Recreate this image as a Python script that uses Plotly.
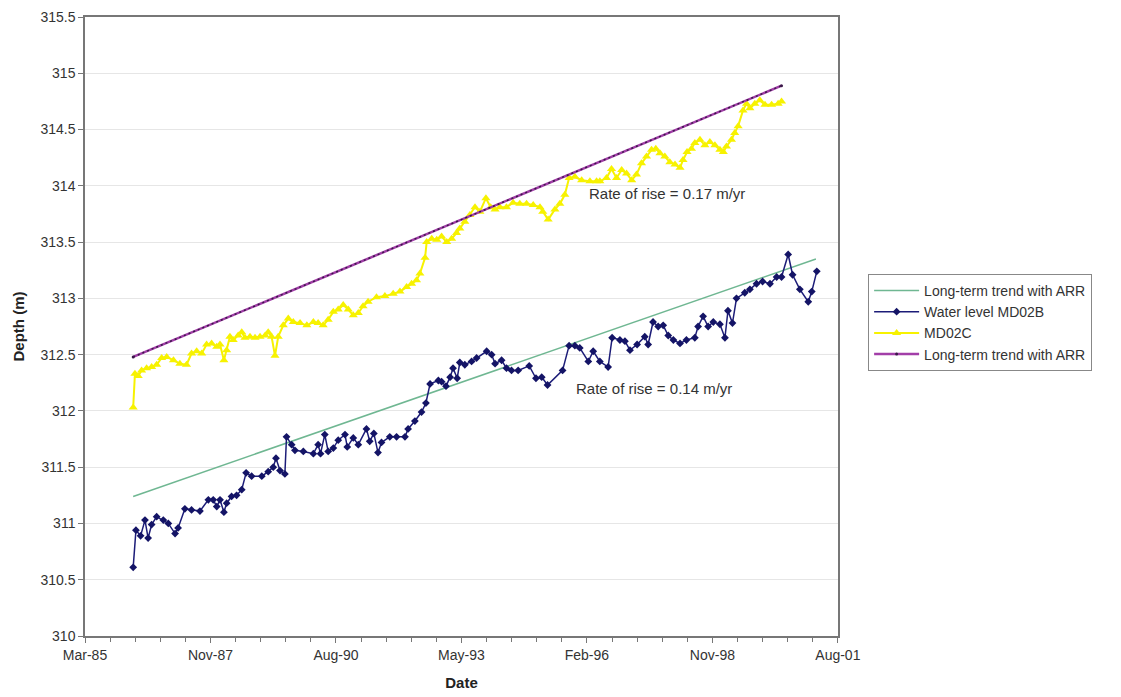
import plotly.graph_objects as go
import pandas as pd

# ---------------- data ----------------
md02b_dates = [
    "1986-03-20", "1986-04-11", "1986-05-18", "1986-06-22", "1986-07-17", "1986-08-14", "1986-09-23",
    "1986-11-15", "1986-12-25", "1987-02-17", "1987-03-13", "1987-05-06", "1987-06-28", "1987-09-03",
    "1987-11-09", "1987-12-18", "1988-01-15", "1988-02-10", "1988-03-12", "1988-04-03", "1988-05-12",
    "1988-06-21", "1988-08-01", "1988-09-05", "1988-10-19", "1989-01-08", "1989-02-28", "1989-04-09",
    "1989-05-01", "1989-06-02", "1989-07-11", "1989-07-24", "1989-09-03", "1989-09-29", "1989-12-05",
    "1990-02-23", "1990-04-02", "1990-04-21", "1990-05-25", "1990-06-21", "1990-08-01", "1990-09-09",
    "1990-11-02", "1990-11-20", "1991-01-07", "1991-02-16", "1991-04-22", "1991-05-18", "1991-06-20",
    "1991-07-23", "1991-08-20", "1991-10-25", "1991-12-18", "1992-02-23", "1992-03-19", "1992-05-12",
    "1992-07-04", "1992-08-08", "1992-09-10", "1992-11-15", "1992-12-11", "1993-01-15", "1993-02-17",
    "1993-03-12", "1993-04-14", "1993-05-05", "1993-06-14", "1993-08-07", "1993-09-16", "1993-12-05",
    "1994-01-14", "1994-02-10", "1994-04-03", "1994-05-12", "1994-06-21", "1994-08-13", "1994-11-09",
    "1995-01-02", "1995-02-17", "1995-04-04", "1995-08-02", "1995-09-23", "1995-11-08", "1995-12-17",
    "1996-02-23", "1996-04-02", "1996-05-25", "1996-07-30", "1996-08-31", "1996-11-01", "1996-12-11",
    "1997-01-20", "1997-03-18", "1997-05-18", "1997-06-14", "1997-07-23", "1997-09-02", "1997-10-12",
    "1997-11-21", "1998-01-01", "1998-02-23", "1998-04-15", "1998-06-21", "1998-07-17", "1998-08-26",
    "1998-10-05", "1998-11-15", "1999-01-07", "1999-02-16", "1999-03-12", "1999-04-17", "1999-05-19",
    "1999-07-24", "1999-09-03", "1999-10-26", "1999-12-13", "2000-02-10", "2000-04-03", "2000-05-12",
    "2000-07-04", "2000-08-08", "2000-10-05", "2000-12-11", "2001-01-08", "2001-02-17",
]
md02b_values = [
    310.61, 310.94, 310.89, 311.03, 310.87, 310.99, 311.06,
    311.03, 311.00, 310.91, 310.96, 311.13, 311.12, 311.11,
    311.21, 311.21, 311.15, 311.21, 311.10, 311.18, 311.24,
    311.25, 311.30, 311.45, 311.42, 311.42, 311.46, 311.50,
    311.58, 311.47, 311.44, 311.77, 311.70, 311.65, 311.64,
    311.62, 311.70, 311.62, 311.79, 311.64, 311.67, 311.74,
    311.79, 311.68, 311.76, 311.70, 311.84, 311.73, 311.80,
    311.63, 311.72, 311.77, 311.77, 311.77, 311.84, 311.91,
    311.99, 312.07, 312.24, 312.27, 312.26, 312.22, 312.30,
    312.38, 312.29, 312.43, 312.41, 312.44, 312.47, 312.53,
    312.50, 312.42, 312.45, 312.38, 312.36, 312.36, 312.40,
    312.29, 312.30, 312.23, 312.36, 312.58, 312.58, 312.56,
    312.44, 312.53, 312.44, 312.39, 312.65, 312.63, 312.62,
    312.54, 312.59, 312.66, 312.59, 312.79, 312.75, 312.76,
    312.67, 312.63, 312.60, 312.63, 312.65, 312.75, 312.84,
    312.75, 312.79, 312.77, 312.65, 312.89, 312.78, 313.00,
    313.05, 313.08, 313.13, 313.15, 313.13, 313.19, 313.19,
    313.39, 313.21, 313.08, 312.97, 313.06, 313.24,
]

md02c_dates = [
    "1986-03-20", "1986-04-03", "1986-04-29", "1986-05-26", "1986-07-05", "1986-08-14", "1986-09-23",
    "1986-11-02", "1986-12-12", "1987-02-04", "1987-03-27", "1987-05-19", "1987-06-28", "1987-08-08",
    "1987-09-17", "1987-10-26", "1987-12-05", "1988-01-15", "1988-02-10", "1988-03-12", "1988-04-03",
    "1988-04-29", "1988-05-25", "1988-07-04", "1988-08-01", "1988-08-27", "1988-10-06", "1988-11-15",
    "1988-12-25", "1989-02-04", "1989-02-28", "1989-03-27", "1989-04-23", "1989-05-19", "1989-06-28",
    "1989-08-07", "1989-09-16", "1989-11-09", "1990-01-02", "1990-02-23", "1990-04-02", "1990-05-12",
    "1990-06-21", "1990-08-01", "1990-09-09", "1990-10-19", "1990-11-28", "1991-01-07", "1991-02-16",
    "1991-03-26", "1991-05-05", "1991-07-11", "1991-09-16", "1991-11-21", "1992-01-14", "1992-03-07",
    "1992-04-16", "1992-05-25", "1992-06-21", "1992-08-01", "1992-08-14", "1992-09-23", "1992-11-02",
    "1992-12-11", "1993-01-21", "1993-03-01", "1993-04-09", "1993-05-05", "1993-06-14", "1993-07-24",
    "1993-09-03", "1993-10-12", "1993-11-29", "1994-01-06", "1994-02-10", "1994-03-20", "1994-05-12",
    "1994-07-04", "1994-08-26", "1994-10-19", "1994-12-11", "1995-02-03", "1995-02-25", "1995-04-09",
    "1995-06-02", "1995-07-11", "1995-08-20", "1995-09-23", "1995-11-08", "1996-01-01", "1996-03-07",
    "1996-04-29", "1996-05-25", "1996-07-17", "1996-08-26", "1996-10-05", "1996-11-15", "1996-12-24",
    "1997-02-03", "1997-03-13", "1997-04-22", "1997-06-01", "1997-07-11", "1997-08-14", "1997-09-16",
    "1997-10-25", "1997-12-04", "1998-01-14", "1998-02-23", "1998-03-19", "1998-04-20", "1998-05-25",
    "1998-06-21", "1998-08-01", "1998-09-09", "1998-10-19", "1998-11-28", "1999-01-07", "1999-02-03",
    "1999-02-28", "1999-04-09", "1999-05-05", "1999-06-01", "1999-07-10", "1999-08-07", "1999-09-03",
    "1999-10-12", "1999-11-21", "2000-01-01", "2000-02-23", "2000-04-15", "2000-05-12",
]
md02c_values = [
    312.03, 312.33, 312.31, 312.36, 312.38, 312.39, 312.41,
    312.47, 312.48, 312.45, 312.42, 312.41, 312.51, 312.53,
    312.51, 312.59, 312.60, 312.57, 312.59, 312.45, 312.54,
    312.66, 312.63, 312.67, 312.70, 312.65, 312.66, 312.65,
    312.66, 312.67, 312.70, 312.66, 312.49, 312.66, 312.76,
    312.82, 312.79, 312.78, 312.76, 312.79, 312.78, 312.76,
    312.81, 312.88, 312.90, 312.94, 312.90, 312.85, 312.87,
    312.93, 312.97, 313.01, 313.02, 313.04, 313.06, 313.10,
    313.13, 313.16, 313.22, 313.36, 313.50, 313.53, 313.52,
    313.55, 313.50, 313.53, 313.58, 313.62, 313.68, 313.74,
    313.81, 313.77, 313.89, 313.81, 313.79, 313.81, 313.81,
    313.85, 313.84, 313.84, 313.83, 313.81, 313.77, 313.70,
    313.79, 313.84, 313.92, 314.07, 314.08, 314.05, 314.04,
    314.04, 314.04, 314.07, 314.15, 314.07, 314.14, 314.11,
    314.05, 314.10, 314.20, 314.26, 314.32, 314.33, 314.29,
    314.26, 314.21, 314.19, 314.16, 314.23, 314.30, 314.33,
    314.38, 314.41, 314.36, 314.39, 314.36, 314.32, 314.30,
    314.35, 314.41, 314.47, 314.53, 314.67, 314.73, 314.69,
    314.73, 314.76, 314.72, 314.72, 314.73, 314.75,
]

trend_b_dates = ["1986-03-20", "2001-02-10"]
trend_b_values = [311.24, 313.35]

trend_c_dates = ["1986-03-20", "2000-05-12"]
trend_c_values = [312.48, 314.89]

y_ticks = [310, 310.5, 311, 311.5, 312, 312.5, 313, 313.5, 314, 314.5, 315, 315.5]
x_axis_start = "1985-03-01"
x_axis_end = "2001-08-05"

# ---------------- figure ----------------
FONT = "Liberation Sans, Arial, sans-serif"
major_ticks = pd.date_range(x_axis_start, periods=7, freq="1000D")
minor_ticks = pd.date_range(x_axis_start, periods=31, freq="200D")

fig = go.Figure()

fig.add_trace(go.Scatter(
    x=trend_b_dates, y=trend_b_values, mode="lines",
    name="Long-term trend with ARR",
    line=dict(color="#6fb792", width=1.5),
))
fig.add_trace(go.Scatter(
    x=md02b_dates, y=md02b_values, mode="lines+markers",
    name="Water level MD02B",
    line=dict(color="#1c1c78", width=1.5),
    marker=dict(symbol="diamond", size=6, color="#141466"),
))
fig.add_trace(go.Scatter(
    x=md02c_dates, y=md02c_values, mode="lines+markers",
    name="MD02C",
    line=dict(color="#f7f200", width=2),
    marker=dict(symbol="triangle-up", size=8, color="#f7f200"),
))
fig.add_trace(go.Scatter(
    x=trend_c_dates, y=trend_c_values, mode="lines+markers",
    name="Long-term trend with ARR",
    line=dict(color="#a23ea8", width=2.5),
    marker=dict(symbol="circle", size=3, color="#3a1848"),
))
fig.add_trace(go.Scatter(
    x=trend_c_dates, y=trend_c_values, mode="lines",
    showlegend=False, hoverinfo="skip",
    line=dict(color="#3a1848", width=1.5, dash="2px,3px"),
))

fig.add_annotation(x="1996-02-10", y=313.93, text="Rate of rise = 0.17 m/yr",
                   showarrow=False, xanchor="left", yanchor="middle",
                   font=dict(family=FONT, size=15, color="#333333"))
fig.add_annotation(x="1995-11-01", y=312.2, text="Rate of rise = 0.14 m/yr",
                   showarrow=False, xanchor="left", yanchor="middle",
                   font=dict(family=FONT, size=15, color="#333333"))

fig.update_layout(
    width=1113, height=689,
    margin=dict(l=77, r=283, t=9, b=61, autoexpand=False),
    paper_bgcolor="white", plot_bgcolor="white",
    font=dict(family=FONT, size=14, color="#333333"),
    showlegend=True,
    legend=dict(
        x=1.04, y=0.585, xanchor="left", yanchor="top",
        bgcolor="white", bordercolor="#888888", borderwidth=1,
        font=dict(family=FONT, size=14, color="#333333"),
        tracegroupgap=0, itemwidth=45,
    ),
    xaxis=dict(
        type="date", range=[x_axis_start, x_axis_end], automargin=False,
        tickmode="array", tickvals=list(major_ticks), tickformat="%b-%y",
        showgrid=False, zeroline=False,
        showline=True, linecolor="#777777", linewidth=1.5, mirror=True,
        ticks="outside", ticklen=5, tickcolor="#777777",
        minor=dict(tickmode="array", tickvals=list(minor_ticks), ticks="outside",
                   ticklen=4, tickcolor="#777777", showgrid=False),
        tickfont=dict(family=FONT, size=14, color="#333333"),
        title=dict(text="<b>Date</b>", font=dict(family=FONT, size=15, color="#222222"), standoff=16),
    ),
    yaxis=dict(
        range=[310, 315.5], tickmode="array", tickvals=y_ticks, automargin=False,
        showgrid=True, gridcolor="#e6e6e6", gridwidth=1, zeroline=False,
        showline=True, linecolor="#777777", linewidth=1.5, mirror=True,
        ticks="outside", ticklen=5, tickcolor="#777777",
        tickfont=dict(family=FONT, size=14, color="#333333"),
        title=dict(text="<b>Depth (m)</b>", font=dict(family=FONT, size=15, color="#222222"), standoff=12),
    ),
)

fig.write_html("out.html")
